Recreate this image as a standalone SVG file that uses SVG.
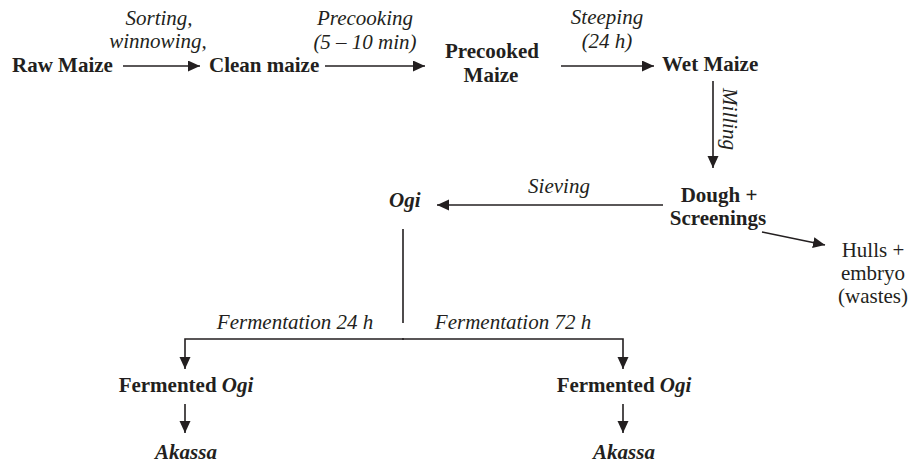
<svg xmlns="http://www.w3.org/2000/svg" width="910" height="464" viewBox="0 0 910 464">
<style>
text{font-family:"Liberation Serif","Times New Roman",serif;font-size:21px;fill:#231f20}
.b{font-weight:bold}
.i{font-style:italic}
.bi{font-weight:bold;font-style:italic}
.m{text-anchor:middle}
.c{fill:none;stroke:#231f20;stroke-width:1.6}
.a{marker-end:url(#ah)}
</style>
<defs>
<marker id="ah" markerUnits="userSpaceOnUse" markerWidth="13" markerHeight="12" refX="12" refY="5.5" orient="auto">
<path d="M0,0 L12,5.5 L0,11 z" fill="#231f20"/>
</marker>
</defs>
<rect width="910" height="464" fill="#fff"/>
<g id="connectors">
<line class="c a" x1="123" y1="66" x2="200" y2="66"/>
<line class="c a" x1="325" y1="66" x2="425" y2="66"/>
<line class="c a" x1="561" y1="66" x2="654" y2="66"/>
<line class="c a" x1="713" y1="81" x2="713" y2="168"/>
<line class="c a" x1="663" y1="205" x2="437" y2="205"/>
<line class="c a" x1="762" y1="232" x2="825" y2="245"/>
<line class="c" x1="403" y1="229" x2="403" y2="323"/>
<path class="c a" d="M404,339 H185 V369" stroke-width="2"/>
<path class="c a" d="M402,339 H623 V369" stroke-width="2"/>
<line class="c a" x1="185" y1="404" x2="185" y2="433"/>
<line class="c a" x1="623" y1="404" x2="623" y2="433"/>
</g>
<g id="labels">
<text class="i m" x="159" y="25">Sorting,</text>
<text class="i m" x="158" y="48">winnowing,</text>
<text class="i m" x="365" y="25">Precooking</text>
<text class="i m" x="365" y="49">(5 – 10 min)</text>
<text class="i m" x="607" y="24">Steeping</text>
<text class="i m" x="607" y="48">(24 h)</text>
<text class="i m" transform="translate(723,119) rotate(90)">Milling</text>
<text class="i m" x="559" y="193">Sieving</text>
<text class="i m" x="295" y="329">Fermentation 24 h</text>
<text class="i m" x="513" y="329">Fermentation 72 h</text>
</g>
<g id="raw-maize"><text class="b" x="12" y="72">Raw Maize</text></g>
<g id="clean-maize"><text class="b" x="209" y="72">Clean maize</text></g>
<g id="precooked-maize"><text class="b m" x="492" y="58">Precooked</text><text class="b m" x="491" y="82">Maize</text></g>
<g id="wet-maize"><text class="b" x="662" y="71">Wet Maize</text></g>
<g id="dough-screenings"><text class="b m" x="719" y="202">Dough +</text><text class="b m" x="718" y="225">Screenings</text></g>
<g id="hulls-embryo"><text class="m" x="873" y="257">Hulls +</text><text class="m" x="873" y="280">embryo</text><text class="m" x="873" y="303">(wastes)</text></g>
<g id="ogi"><text class="bi" x="389" y="207">Ogi</text></g>
<g id="fermented-ogi-24"><text class="b m" x="186" y="392">Fermented <tspan class="bi">Ogi</tspan></text></g>
<g id="fermented-ogi-72"><text class="b m" x="624" y="392">Fermented <tspan class="bi">Ogi</tspan></text></g>
<g id="akassa-24"><text class="bi m" x="186" y="459">Akassa</text></g>
<g id="akassa-72"><text class="bi m" x="624" y="459">Akassa</text></g>
</svg>
